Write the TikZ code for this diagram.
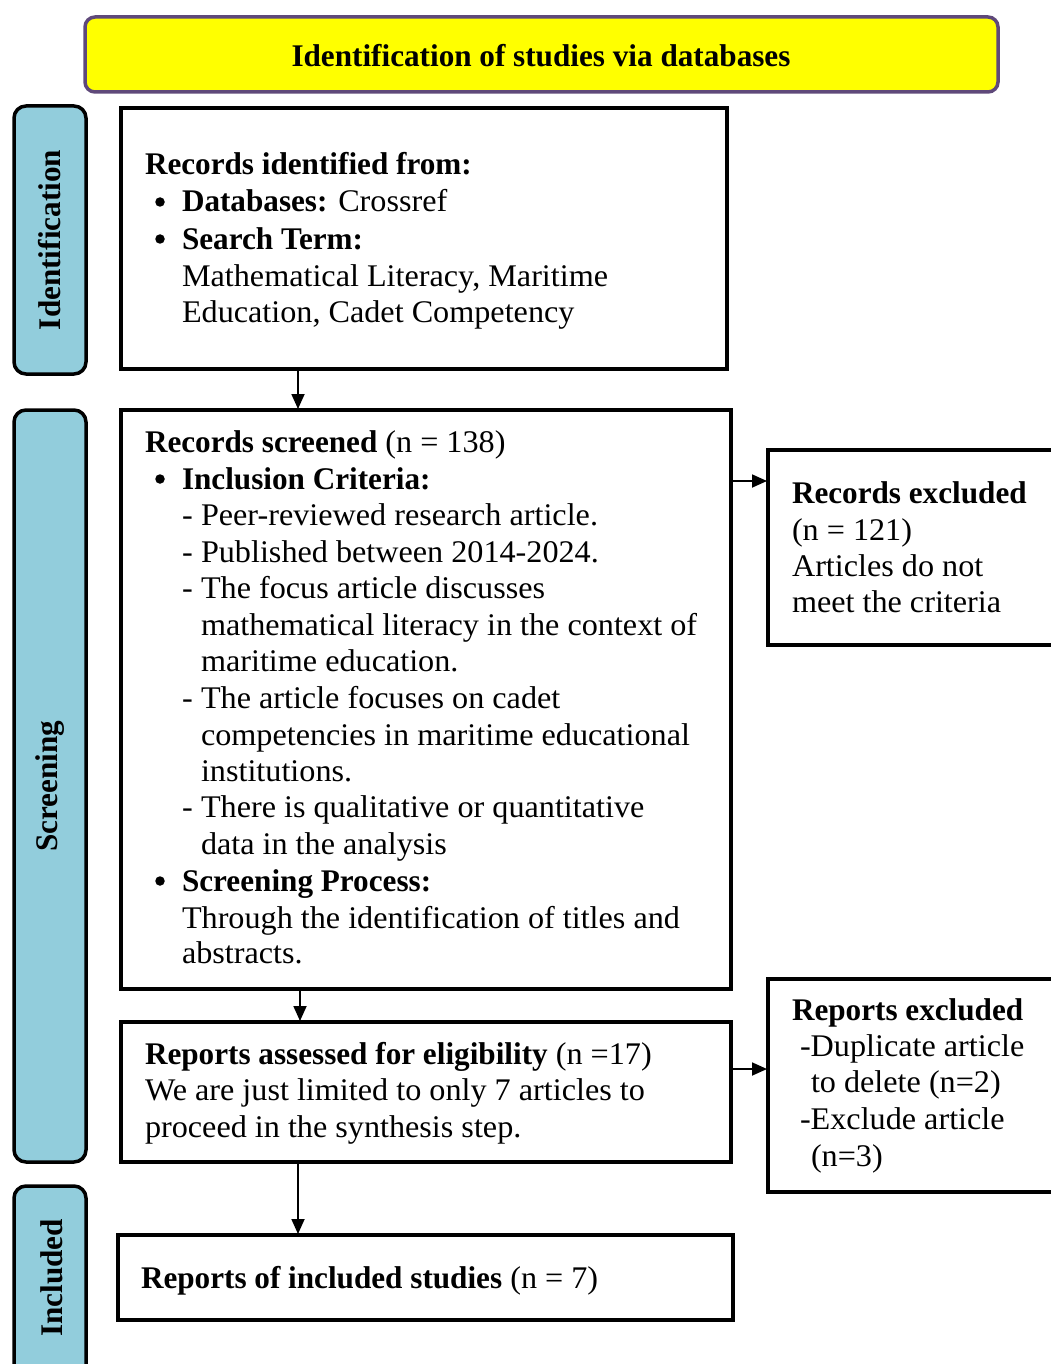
\documentclass[tikz,border=0pt]{standalone}
\usepackage{fontspec}
\setmainfont{Liberation Serif}[UprightFeatures={FakeStretch=1.022}, BoldFeatures={FakeStretch=0.99}]
\usetikzlibrary{arrows.meta}
\definecolor{banyel}{HTML}{FFFF00}
\definecolor{banpur}{HTML}{5F497A}
\definecolor{sideblue}{HTML}{92CDDC}
\newcommand{\fsz}{\fontsize{31.5}{36.6}\selectfont}
\begin{document}
\begin{tikzpicture}[x=1pt,y=-1pt,
  box/.style={draw=black, line width=3.5pt, fill=white, anchor=north west, inner sep=0pt, outer sep=0pt},
  side/.style={draw=black, line width=3.5pt, fill=sideblue, rounded corners=12pt, anchor=north west, inner sep=0pt, outer sep=0pt, minimum width=72pt},
  sidetxt/.style={rotate=90, font=\fsz\bfseries, inner sep=0pt},
  txt/.style={anchor=base west, inner sep=0pt, outer sep=0pt, font=\fsz},
  bul/.style={circle, fill=black, inner sep=0pt, minimum size=9.5pt},
  arr/.style={line width=1.8pt, -{Triangle[length=15pt,width=13pt]}, shorten >=1pt}
]
\useasboundingbox (0,0) rectangle (1051,1364);
\clip (0,0) rectangle (1051,1364);

% banner
\node[draw=banpur, line width=3.5pt, fill=banyel, rounded corners=10pt, anchor=north west,
      minimum width=913pt, minimum height=75pt, inner sep=0pt, outer sep=0pt] (banner) at (85,17) {};
\node[anchor=base, inner sep=0pt, font=\fsz\bfseries] (bannertxt) at (541,67) {Identification of studies via databases};

% side labels
\node[side, minimum height=268pt] (sid) at (14,106) {};
\node[sidetxt] (sidt) at (sid.center) {Identification};
\node[side, minimum height=752pt] (ssc) at (14,410) {};
\node[sidetxt] (ssct) at (ssc.center) {Screening};
\node[side, minimum height=240pt] (sin) at (14,1186) {};
\node[sidetxt] (sint) at (52,1278) {Included};

% main boxes
\node[box, minimum width=606pt, minimum height=261pt] (b1) at (121,108) {};
\node[box, minimum width=610pt, minimum height=579pt] (b2) at (121,410) {};
\node[box, minimum width=610pt, minimum height=140pt] (b3) at (121,1022) {};
\node[box, minimum width=615pt, minimum height=85pt] (b4) at (118,1235) {};
\node[box, minimum width=300pt, minimum height=195pt] (r1) at (768,450) {};
\node[box, minimum width=300pt, minimum height=213pt] (r2) at (768,979) {};

% box 1 text
\node[txt] (a1) at (145,175) {\bfseries Records identified from:};
\node[bul] (a2b) at (160,202) {};
\node[txt] (a2) at (182,212) {\textbf{Databases:} Crossref};
\node[bul] (a3b) at (160,239) {};
\node[txt] (a3) at (182,249) {\bfseries Search Term:};
\node[txt] (a4) at (182,286) {Mathematical Literacy, Maritime};
\node[txt] (a5) at (182,322) {Education, Cadet Competency};

% box 2 text
\node[txt] (c1) at (145,452) {\textbf{Records screened} (n = 138)};
\node[bul] (c2b) at (160,479) {};
\node[txt] (c2) at (182,489) {\bfseries Inclusion Criteria:};
\node[txt] (c3d) at (182,525) {-};
\node[txt] (c3) at (201,525) {Peer-reviewed research article.};
\node[txt] (c4d) at (182,562) {-};
\node[txt] (c4) at (201,562) {Published between 2014-2024.};
\node[txt] (c5d) at (182,598) {-};
\node[txt] (c5) at (201,598) {The focus article discusses};
\node[txt] (c6) at (201,635) {mathematical literacy in the context of};
\node[txt] (c7) at (201,671) {maritime education.};
\node[txt] (c8d) at (182,708) {-};
\node[txt] (c8) at (201,708) {The article focuses on cadet};
\node[txt] (c9) at (201,745) {competencies in maritime educational};
\node[txt] (c10) at (201,781) {institutions.};
\node[txt] (c11d) at (182,817) {-};
\node[txt] (c11) at (201,817) {There is qualitative or quantitative};
\node[txt] (c12) at (201,854) {data in the analysis};
\node[bul] (c13b) at (160,881) {};
\node[txt] (c13) at (182,891) {\bfseries Screening Process:};
\node[txt] (c14) at (182,928) {Through the identification of titles and};
\node[txt] (c15) at (182,963) {abstracts.};

% box 3 text
\node[txt] (d1) at (145,1064) {\textbf{Reports assessed for eligibility} (n =17)};
\node[txt] (d2) at (145,1100) {We are just limited to only 7 articles to};
\node[txt] (d3) at (145,1137) {proceed in the synthesis step.};

% box 4 text
\node[txt] (e1) at (141,1288) {\textbf{Reports of included studies} (n = 7)};

% right box 1 text
\node[txt] (f1) at (792,503) {\bfseries Records excluded};
\node[txt] (f2) at (792,540) {(n = 121)};
\node[txt] (f3) at (792,576) {Articles do not};
\node[txt] (f4) at (792,612) {meet the criteria};

% right box 2 text
\node[txt] (g1) at (792,1020) {\bfseries Reports excluded};
\node[txt] (g2) at (800,1056) {-Duplicate article};
\node[txt] (g3) at (811,1092) {to delete (n=2)};
\node[txt] (g4) at (800,1129) {-Exclude article};
\node[txt] (g5) at (811,1166) {(n=3)};

% arrows
\draw[arr] ([xshift=177pt]b1.south west) -- ([xshift=177pt]b2.north west);
\draw[arr] ([xshift=179pt]b2.south west) -- ([xshift=179pt]b3.north west);
\draw[arr] ([xshift=177pt]b3.south west) -- ([xshift=180pt]b4.north west);
\draw[arr] ([yshift=-71pt]b2.north east) -- ([yshift=-31pt]r1.north west);
\draw[arr] ([yshift=-47pt]b3.north east) -- ([yshift=-90pt]r2.north west);
\end{tikzpicture}
\end{document}
